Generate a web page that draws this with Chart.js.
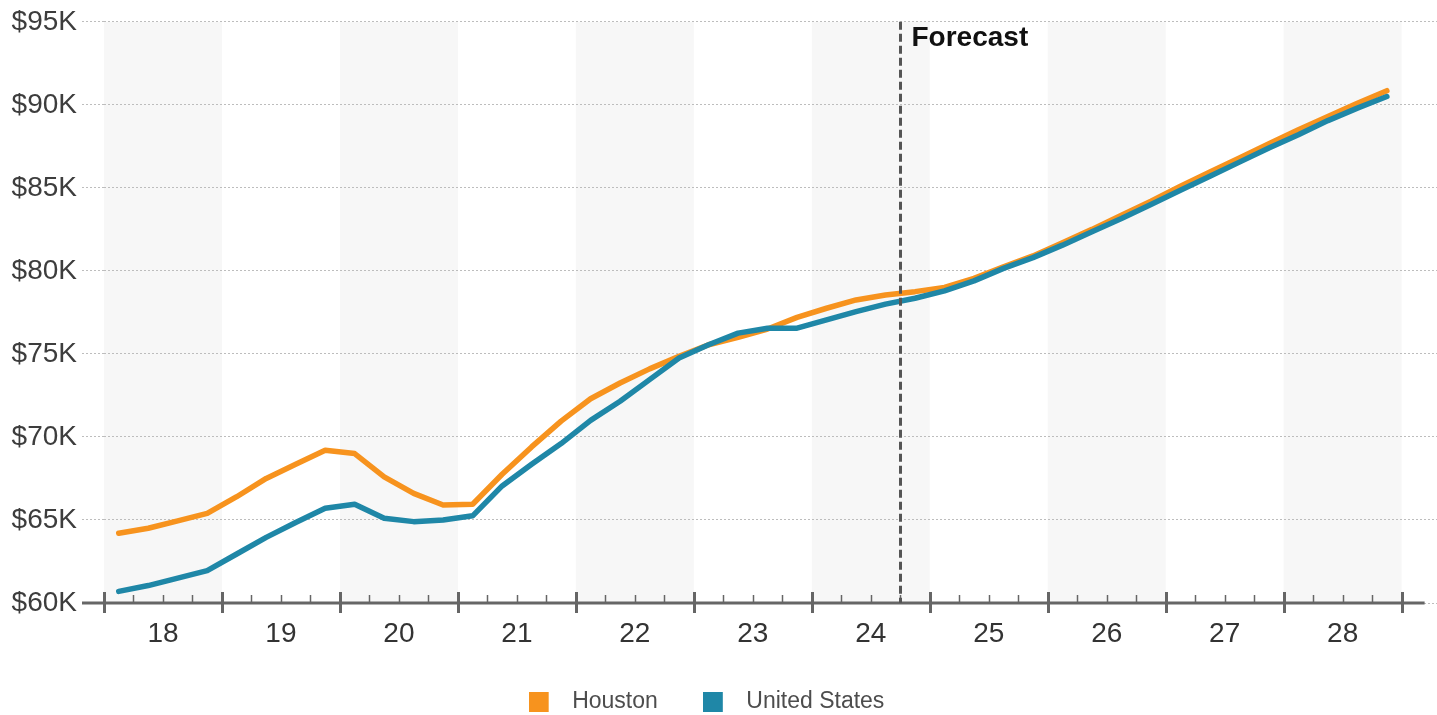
<!DOCTYPE html>
<html>
<head>
<meta charset="utf-8">
<title>Median household income: Houston vs. United States</title>
<script src="https://cdn.jsdelivr.net/npm/chart.js@4.4.1/dist/chart.umd.min.js"></script>
<style>
  html, body { margin: 0; padding: 0; background: #ffffff; }
  #wrap { width: 1437px; height: 715px; position: relative; }
</style>
</head>
<body>
<div id="wrap"><canvas id="chart" width="1437" height="715"></canvas></div>
<script>
// Years shown on the x axis (two-digit), each split into four quarters
const yearLabels = ['18', '19', '20', '21', '22', '23', '24', '25', '26', '27', '28'];
const quarterNames = ['Q1', 'Q2', 'Q3', 'Q4'];
const quarters = yearLabels.flatMap(y => quarterNames.map(q => y + ' ' + q));

// Quarterly values in dollars
const houston = [
  64200, 64500, 64950, 65400, 66400, 67500, 68350, 69200,
  69000, 67600, 66600, 65900, 65950, 67750, 69400, 70950,
  72300, 73250, 74100, 74850, 75550, 76000, 76500, 77200,
  77750, 78250, 78550, 78750, 79000, 79550, 80250, 80900,
  81700, 82500, 83350, 84200, 85100, 85950, 86800, 87650,
  88500, 89300, 90100, 90850
];
const unitedStates = [
  60700, 61050, 61500, 61950, 62950, 63950, 64850, 65700,
  65950, 65100, 64900, 65000, 65250, 67050, 68350, 69600,
  71000, 72150, 73450, 74750, 75550, 76250, 76550, 76550,
  77050, 77550, 78000, 78350, 78800, 79400, 80150, 80800,
  81550, 82350, 83150, 84000, 84850, 85700, 86550, 87400,
  88200, 89050, 89800, 90500
];

// First forecast quarter
const forecastFrom = '24 Q4';
const forecastLabel = 'Forecast';

// Value axis
const yMin = 60000;
const yMax = 95000;
const yStep = 5000;

const seriesNames = ['Houston', 'United States'];
const seriesColors = ['#f7931e', '#1f87a7'];

const FONT = "'Liberation Sans', Arial, Helvetica, sans-serif";
Chart.defaults.font.family = FONT;

const firstYear = Number(yearLabels[0]);
// quarter i sits at the middle of its quarter on the year axis
const quarterX = i => firstYear + (i + 0.5) / 4;
const toPoints = arr => arr.map((v, i) => ({ x: quarterX(i), y: v }));

// square legend swatch followed by a little blank space before the text
function swatch(color) {
  const c = document.createElement('canvas');
  c.width = 32; c.height = 20;
  const g = c.getContext('2d');
  g.fillStyle = color;
  g.fillRect(0, 0, 20, 20);
  return c;
}

const decor = {
  id: 'decor',
  afterLayout(chart) {
    const lg = chart.legend;
    if (lg) { lg.left -= 12; lg.right -= 12; }
  },
  beforeDraw(chart) {
    // alternating year bands
    const { ctx, chartArea: { top, bottom }, scales: { x } } = chart;
    ctx.save();
    ctx.fillStyle = '#f7f7f7';
    yearLabels.forEach((_, i) => {
      if (i % 2) return;
      const x0 = x.getPixelForValue(firstYear + i);
      const x1 = x.getPixelForValue(firstYear + i + 1);
      ctx.fillRect(x0, top, x1 - x0, bottom - top);
    });
    ctx.restore();
  },
  afterDatasetsDraw(chart) {
    const { ctx, chartArea: { top, left }, scales: { x, y } } = chart;
    const y0 = y.getPixelForValue(yMin);
    const lastEdge = x.getPixelForValue(firstYear + yearLabels.length);
    ctx.save();
    ctx.strokeStyle = '#666666';
    ctx.lineCap = 'butt';

    // baseline
    ctx.lineWidth = 3;
    ctx.beginPath();
    ctx.moveTo(left - 22, y0);
    ctx.lineTo(lastEdge + 23, y0);
    ctx.stroke();

    // year ticks
    for (let i = 0; i <= yearLabels.length; i++) {
      const px = Math.round(x.getPixelForValue(firstYear + i)) + 0.5;
      ctx.beginPath();
      ctx.moveTo(px, y0 - 11);
      ctx.lineTo(px, y0 + 10);
      ctx.stroke();
    }
    // quarter ticks
    ctx.lineWidth = 1.5;
    for (let i = 0; i < yearLabels.length; i++) {
      for (let q = 1; q < 4; q++) {
        const px = Math.round(x.getPixelForValue(firstYear + i + q / 4)) + 0.5;
        ctx.beginPath();
        ctx.moveTo(px, y0 - 8);
        ctx.lineTo(px, y0);
        ctx.stroke();
      }
    }

    // forecast divider
    const fx = Math.round(x.getPixelForValue(firstYear + quarters.indexOf(forecastFrom) / 4)) + 0.5;
    ctx.strokeStyle = '#555555';
    ctx.lineWidth = 3;
    ctx.setLineDash([8, 4]);
    ctx.beginPath();
    ctx.moveTo(fx, top);
    ctx.lineTo(fx, y0);
    ctx.stroke();
    ctx.setLineDash([]);

    ctx.fillStyle = '#111111';
    ctx.font = "bold 28px " + FONT;
    ctx.textAlign = 'left';
    ctx.textBaseline = 'alphabetic';
    ctx.fillText(forecastLabel, fx + 11, 46);
    ctx.restore();
  }
};

const datasets = [houston, unitedStates].map((arr, k) => ({
  label: seriesNames[k],
  data: toPoints(arr),
  borderColor: seriesColors[k],
  backgroundColor: seriesColors[k],
  borderWidth: 5.5,
  pointRadius: 0,
  pointHoverRadius: 0,
  pointStyle: swatch(seriesColors[k]),
  tension: 0,
  borderCapStyle: 'round',
  borderJoinStyle: 'round',
  order: k === 0 ? 1 : 0
}));

new Chart(document.getElementById('chart'), {
  type: 'line',
  data: { datasets },
  options: {
    responsive: false,
    animation: false,
    events: [],
    layout: { padding: { top: 20, left: 0, right: 0, bottom: 0 } },
    scales: {
      x: {
        type: 'linear',
        min: firstYear,
        max: firstYear + yearLabels.length + 0.3,
        afterBuildTicks: s => { s.ticks = yearLabels.map((_, i) => ({ value: firstYear + i + 0.5 })); },
        afterFit: s => { s.height = 42; },
        grid: { display: false, drawTicks: false },
        border: { display: false },
        ticks: {
          autoSkip: false,
          maxRotation: 0,
          padding: 14,
          color: '#333333',
          font: { size: 28 },
          callback: (v, i) => yearLabels[i]
        }
      },
      y: {
        min: yMin,
        max: yMax,
        afterFit: s => { s.width = 104; },
        ticks: {
          stepSize: yStep,
          padding: 5,
          color: '#3d3d3d',
          font: { size: 28 },
          callback: v => '$' + (v / 1000) + 'K'
        },
        grid: {
          color: '#bdbdbd',
          lineWidth: 1,
          tickLength: 22,
          tickColor: '#bdbdbd',
          tickBorderDash: [2, 2]
        },
        border: { display: false, dash: [2, 2] }
      }
    },
    plugins: {
      legend: {
        position: 'bottom',
        maxHeight: 70,
        labels: {
          usePointStyle: true,
          pointStyleWidth: 32,
          boxHeight: 20,
          padding: 45,
          color: '#4d4d4d',
          font: { size: 23 },
          sort: (a, b) => a.datasetIndex - b.datasetIndex
        }
      },
      tooltip: { enabled: false }
    }
  },
  plugins: [decor]
});
</script>
</body>
</html>
